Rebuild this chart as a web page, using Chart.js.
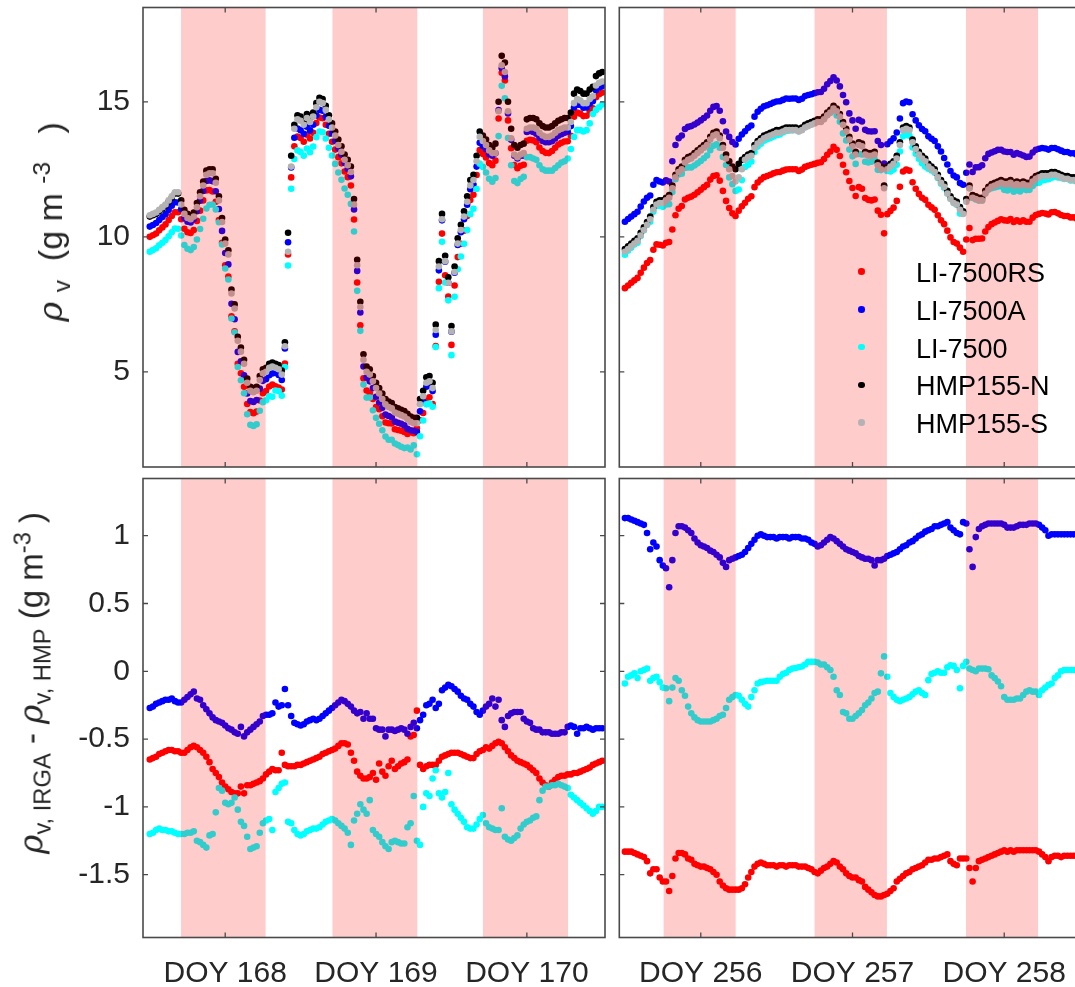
<!DOCTYPE html>
<html>
<head>
<meta charset="utf-8">
<script src="https://cdn.jsdelivr.net/npm/chart.js@4.4.1/dist/chart.umd.min.js"></script>
<style>
  html, body { margin: 0; padding: 0; background: #fff; overflow: hidden; }
  #fig { position: relative; width: 1075px; height: 987px; overflow: hidden;
         font-family: "Liberation Sans", Arial, Helvetica, sans-serif; color: #262626; }
  #fig canvas { position: absolute; }
  .ytitle { position: absolute; white-space: nowrap; font-size: 33px;
            transform: translate(-50%, -50%) rotate(-90deg); }
  .ytitle sub, .ytitle sup { font-size: 72%; line-height: 0; }
  .ytitle i { font-family: "DejaVu Serif", serif; }
  .leg-dot { position: absolute; width: 6.6px; height: 6.6px; border-radius: 50%; }
  .leg-txt { position: absolute; font-size: 27px; color: #000; white-space: nowrap;
             transform: translateY(-50%); }
</style>
</head>
<body>
<div id="fig">
  <canvas id="tl" width="612" height="474" style="left:0;top:0"></canvas>
  <canvas id="tr" width="480" height="474" style="left:612px;top:0"></canvas>
  <canvas id="bl" width="612" height="513" style="left:0;top:474px"></canvas>
  <canvas id="br" width="480" height="513" style="left:612px;top:474px"></canvas>
  <div class="ytitle" style="left:50px;top:222px;font-size:34px"><i>&rho;</i>&nbsp;<sub>v</sub>&nbsp;&nbsp;(g m&nbsp;<sup>-3</sup>&nbsp;&nbsp;&nbsp;)</div>
  <div class="ytitle" style="left:31px;top:683px"><i>&rho;</i><sub>v, IRGA</sub> - <i>&rho;</i><sub>v, HMP</sub> (g m<sup>-3</sup> )</div>
  <div id="legend"></div>
</div>
<script>
// sampling grid (30 min) of each period
const timeLeft = Array.from({ length: 145 }, (_, i) => 167.5 + i / 48)
const timeRight = Array.from({ length: 145 }, (_, i) => 255.5 + i / 48)

const doyLeft = [168, 169, 170]
const doyRight = [256, 257, 258]
const yTicksTop = [5, 10, 15]
const yTicksBottom = [-1.5, -1, -0.5, 0, 0.5, 1]

// night periods (shaded)
const nightStartLeft = [167.707, 168.711, 169.709]
const nightEndLeft = [168.268, 169.274, 170.273]
const nightStartRight = [255.755, 256.75, 257.748]
const nightEndRight = [256.23, 257.227, 258.223]

const names = ["LI-7500RS", "LI-7500A", "LI-7500", "HMP155-N", "HMP155-S"]
const colors = ["#ff0000", "#0000ff", "#00ffff", "#000000", "#b3b3b3"]

// water vapour density, DOY 167.5 - 170.5 (g m-3)
const rsLeft = [10.0,10.06,10.12,10.24,10.35,10.46,10.62,10.77,10.91,10.91,
10.65,10.3,10.17,10.14,10.25,10.59,10.97,11.35,11.72,11.73,
11.68,11.3,10.62,9.78,8.95,8.53,7.06,6.5,5.3,4.95,
4.45,3.81,3.51,3.47,3.53,3.94,4.21,4.29,4.46,4.53,
4.47,4.42,4.35,5.31,9.35,12.2,13.35,13.71,13.66,13.52,
13.78,13.64,13.85,14.21,14.42,14.39,14.15,13.81,13.52,13.23,
12.95,12.72,12.42,12.21,11.9,10.64,8.31,6.73,4.76,4.31,
4.22,4.0,3.7,3.62,3.36,3.13,3.1,3.09,2.88,2.85,
2.82,2.78,2.7,2.77,2.73,2.91,3.21,3.48,4.0,4.06,
3.81,5.96,8.34,10.12,8.58,7.79,6.0,8.2,9.25,9.74,
10.23,10.77,11.36,11.56,12.29,13.21,13.07,12.94,12.73,12.65,
12.82,14.38,16.07,15.79,14.31,13.28,12.66,12.54,12.63,12.67,
13.56,13.59,13.57,13.5,13.31,13.18,13.11,13.1,13.18,13.3,
13.42,13.48,13.53,13.54,13.74,14.45,14.6,14.56,14.47,14.48,
14.64,14.76,15.17,15.28,15.34]
const aLeft = [10.38,10.44,10.51,10.62,10.73,10.84,10.99,11.15,11.28,11.27,
11.02,10.69,10.56,10.53,10.65,10.95,11.34,11.7,12.07,12.09,
12.06,11.69,11.03,10.22,9.4,8.98,7.52,6.95,5.74,5.39,
4.87,4.2,3.92,3.89,3.96,4.38,4.67,4.73,4.88,4.94,
4.97,4.89,4.7,5.87,9.8,12.57,13.67,14.01,13.95,13.81,
14.08,13.94,14.15,14.49,14.7,14.67,14.44,14.11,13.83,13.55,
13.27,13.04,12.73,12.51,12.24,11.01,8.74,7.2,5.2,4.79,
4.65,4.4,4.08,3.87,3.67,3.42,3.37,3.32,3.16,3.12,
3.08,3.02,2.89,2.84,2.82,2.78,3.54,3.88,4.45,4.51,
4.29,6.38,8.76,10.61,9.08,8.3,6.49,8.67,9.7,10.17,
10.65,11.19,11.76,11.94,12.6,13.48,13.36,13.24,13.06,13.0,
13.09,14.69,16.24,15.94,14.57,13.59,13.0,12.9,13.0,13.0,
13.88,13.92,13.88,13.82,13.67,13.55,13.5,13.5,13.54,13.64,
13.74,13.8,13.85,13.89,14.1,14.79,14.89,14.88,14.78,14.79,
14.93,15.02,15.43,15.53,15.58]
const li75Left = [9.45,9.51,9.58,9.69,9.78,9.88,10.02,10.17,10.31,10.3,
10.05,9.7,9.56,9.51,9.62,9.9,10.29,10.67,11.05,11.19,
11.2,11.01,10.54,9.72,8.83,8.42,6.98,6.47,5.18,4.69,
4.21,3.43,3.04,3.0,3.06,3.56,3.88,3.95,4.11,4.08,
4.31,4.29,4.12,5.18,8.94,11.78,12.88,13.2,13.14,13.0,
13.27,13.13,13.34,13.69,13.9,13.87,13.64,13.3,13.01,12.7,
12.38,12.11,11.79,11.56,11.22,10.2,8.0,6.52,4.53,4.05,
4.05,3.58,3.3,3.08,2.84,2.61,2.49,2.49,2.35,2.29,
2.23,2.18,2.2,2.13,2.28,1.95,2.62,3.2,3.8,3.83,
3.71,5.92,8.1,9.82,8.31,7.65,5.62,7.78,8.8,9.27,
9.74,10.25,10.84,11.04,11.77,12.71,12.59,12.38,12.15,12.04,
12.18,13.73,15.59,15.13,13.66,12.65,12.07,11.99,12.14,12.22,
12.95,12.95,12.9,12.85,12.65,12.5,12.45,12.45,12.45,12.55,
12.65,12.75,12.8,12.9,13.25,13.7,13.95,13.95,13.9,13.95,
14.2,14.55,14.7,14.8,14.9]
const hmpNLeft = [10.75,10.8,10.85,10.95,11.05,11.15,11.3,11.45,11.6,11.6,
11.35,11.0,10.85,10.8,10.9,11.25,11.65,12.05,12.45,12.5,
12.5,12.15,11.5,10.7,9.9,9.5,8.05,7.5,6.3,5.9,
5.45,4.75,4.45,4.4,4.45,4.85,5.1,5.15,5.3,5.35,
5.3,5.25,5.05,6.1,10.15,13.0,14.15,14.5,14.45,14.3,
14.55,14.4,14.6,14.95,15.15,15.1,14.85,14.5,14.2,13.9,
13.6,13.35,13.05,12.85,12.6,11.4,9.15,7.6,5.65,5.2,
5.1,4.85,4.6,4.4,4.2,4.0,3.9,3.85,3.7,3.65,
3.6,3.55,3.45,3.35,3.3,3.3,4.0,4.3,4.8,4.85,
4.6,6.75,9.1,10.85,9.3,8.5,6.7,8.9,9.95,10.45,
10.95,11.5,12.1,12.3,13.0,13.9,13.75,13.6,13.4,13.3,
13.45,15.0,16.7,16.45,15.0,14.0,13.4,13.3,13.4,13.45,
14.35,14.4,14.4,14.35,14.2,14.1,14.05,14.05,14.1,14.2,
14.3,14.35,14.4,14.4,14.6,15.3,15.45,15.4,15.3,15.3,
15.45,15.55,15.95,16.05,16.1]
const hmpSLeft = [10.8,10.85,10.9,11.0,11.1,11.2,11.35,11.5,11.65,11.65,
11.2,10.85,10.7,10.65,10.75,11.1,11.5,11.9,12.3,12.35,
12.35,12.0,11.35,10.55,9.75,9.35,7.9,7.35,6.15,5.75,
5.3,4.6,4.3,4.25,4.3,4.7,4.95,5.0,5.15,5.2,
5.15,5.1,4.9,5.95,9.45,12.6,14.0,14.35,14.3,14.15,
14.4,14.25,14.45,14.8,15.0,14.95,14.7,14.35,14.05,13.75,
13.4,13.15,12.85,12.65,12.4,11.2,8.95,7.4,5.45,5.0,
4.9,4.65,4.4,4.2,4.0,3.8,3.7,3.65,3.5,3.45,
3.4,3.35,3.25,3.15,3.1,3.1,3.8,4.1,4.6,4.65,
4.4,6.55,8.9,10.65,9.1,8.3,6.5,8.7,9.75,10.25,
10.75,11.3,11.9,12.1,12.8,13.7,13.55,13.4,13.2,13.1,
13.1,14.65,16.35,16.1,14.65,13.65,13.05,12.95,13.05,13.1,
14.0,14.05,14.05,14.0,13.85,13.75,13.7,13.7,13.75,13.85,
13.95,14.0,14.05,14.05,14.25,14.95,15.1,15.05,14.95,14.95,
15.1,15.2,15.6,15.7,15.75]

// water vapour density, DOY 255.5 - 258.5 (g m-3)
const rsRight = [8.1,8.2,8.3,8.39,8.48,8.67,8.86,9.03,9.14,9.52,
9.72,9.71,9.68,9.78,9.81,10.27,10.8,11.04,11.14,11.38,
11.45,11.49,11.56,11.65,11.74,11.84,11.93,12.12,12.25,12.28,
12.08,11.7,11.33,11.07,10.87,10.77,10.97,11.13,11.26,11.41,
11.5,11.84,12.01,12.12,12.21,12.25,12.3,12.35,12.39,12.4,
12.45,12.49,12.5,12.5,12.5,12.44,12.49,12.59,12.63,12.67,
12.7,12.74,12.76,12.88,13.04,13.16,13.33,13.22,12.99,12.67,
12.39,12.07,11.81,11.51,11.84,11.78,11.44,11.37,11.35,11.38,
10.97,10.82,10.13,10.84,10.96,11.08,11.33,11.85,12.42,12.49,
12.45,12.02,11.78,11.59,11.45,11.37,11.19,11.09,11.0,10.8,
10.61,10.47,10.23,9.98,9.81,9.75,9.6,9.45,9.9,10.33,
9.88,9.93,9.93,9.94,10.2,10.36,10.47,10.53,10.59,10.65,
10.61,10.6,10.66,10.55,10.61,10.56,10.61,10.56,10.56,10.71,
10.81,10.85,10.88,10.86,10.83,10.91,10.92,10.87,10.81,10.77,
10.77,10.72,10.72,10.67,10.67]
const aRight = [10.56,10.66,10.75,10.84,10.93,11.12,11.31,11.45,11.53,11.93,
12.1,12.05,12.01,12.09,12.05,12.8,13.4,13.65,13.75,13.99,
14.07,14.1,14.16,14.23,14.31,14.4,14.49,14.67,14.81,14.84,
14.67,14.28,13.9,13.7,13.51,13.42,13.63,13.79,13.91,14.04,
14.12,14.45,14.63,14.74,14.83,14.87,14.92,14.97,15.01,15.02,
15.07,15.12,15.11,15.12,15.12,15.07,15.11,15.21,15.25,15.28,
15.32,15.35,15.36,15.48,15.65,15.77,15.91,15.79,15.57,15.25,
14.98,14.57,14.31,14.0,14.33,14.27,13.96,13.91,13.9,13.91,
13.55,13.4,12.71,13.43,13.54,13.65,13.86,14.38,14.95,15.01,
14.98,14.54,14.31,14.13,13.99,13.91,13.72,13.63,13.55,13.35,
13.16,12.92,12.68,12.44,12.27,12.2,11.99,11.93,12.37,12.68,
12.4,12.57,12.58,12.65,12.91,13.07,13.12,13.17,13.22,13.22,
13.16,13.14,13.14,13.04,13.1,13.06,13.01,12.96,12.97,13.12,
13.22,13.26,13.29,13.27,13.23,13.29,13.29,13.24,13.19,13.14,
13.14,13.09,13.09,13.04,13.03]
const li75Right = [9.34,9.49,9.6,9.72,9.78,10.03,10.24,10.45,10.56,10.93,
11.14,11.15,11.11,11.2,11.21,11.66,12.13,12.31,12.34,12.55,
12.57,12.57,12.64,12.72,12.81,12.91,13.01,13.21,13.37,13.43,
13.3,12.96,12.66,12.2,11.95,11.7,11.75,12.1,12.59,12.67,
12.79,13.14,13.34,13.45,13.56,13.61,13.66,13.71,13.76,13.79,
13.86,13.92,13.94,13.95,13.96,13.91,13.97,14.08,14.15,14.2,
14.25,14.3,14.28,14.38,14.51,14.59,14.69,14.49,14.26,13.83,
13.57,13.23,12.98,12.7,13.07,13.05,12.78,12.75,12.78,12.87,
12.48,12.47,11.89,12.44,12.42,12.49,12.67,13.16,13.72,13.78,
13.74,13.31,13.08,12.89,12.72,12.6,12.52,12.46,12.37,12.18,
11.97,11.82,11.61,11.43,11.27,11.19,10.86,10.87,11.35,11.8,
11.44,11.38,11.35,11.35,11.6,11.75,11.8,11.83,11.86,11.87,
11.74,11.72,11.77,11.67,11.73,11.68,11.76,11.73,11.74,11.88,
11.98,12.0,12.09,12.11,12.13,12.19,12.23,12.2,12.18,12.14,
12.14,12.09,12.09,12.04,12.04]
const hmpNRight = [9.55,9.65,9.75,9.85,9.95,10.15,10.35,10.55,10.75,11.1,
11.3,11.35,11.35,11.45,11.55,11.9,12.3,12.5,12.6,12.85,
12.95,13.0,13.1,13.2,13.3,13.4,13.5,13.7,13.85,13.9,
13.75,13.4,13.05,12.8,12.6,12.5,12.7,12.85,12.95,13.05,
13.1,13.4,13.55,13.65,13.75,13.8,13.85,13.9,13.95,13.95,
14.0,14.05,14.05,14.05,14.05,14.0,14.05,14.15,14.2,14.25,
14.3,14.35,14.35,14.45,14.6,14.7,14.85,14.75,14.55,14.25,
14.0,13.7,13.45,13.15,13.5,13.45,13.15,13.1,13.1,13.15,
12.75,12.6,11.9,12.6,12.7,12.8,13.0,13.5,14.05,14.1,
14.05,13.6,13.35,13.15,13.0,12.9,12.7,12.6,12.5,12.3,
12.1,11.95,11.7,11.5,11.35,11.3,11.1,10.95,11.4,11.9,
11.55,11.5,11.45,11.45,11.7,11.85,11.95,12.0,12.05,12.1,
12.05,12.05,12.1,12.0,12.05,12.0,12.05,12.0,12.0,12.15,
12.25,12.3,12.35,12.35,12.35,12.4,12.4,12.35,12.3,12.25,
12.25,12.2,12.2,12.15,12.15]
const hmpSRight = [9.45,9.55,9.65,9.75,9.85,10.05,10.25,10.45,10.65,11.0,
11.2,11.25,11.25,11.35,11.45,11.8,12.2,12.4,12.5,12.75,
12.85,12.9,13.0,13.1,13.2,13.3,13.4,13.6,13.75,13.8,
13.65,13.3,12.9,12.5,12.25,12.05,12.2,12.5,12.85,12.95,
13.0,13.3,13.45,13.55,13.65,13.7,13.75,13.8,13.85,13.85,
13.9,13.95,13.95,13.95,13.95,13.9,13.95,14.05,14.1,14.15,
14.2,14.25,14.25,14.35,14.5,14.6,14.75,14.65,14.45,14.15,
13.9,13.6,13.35,13.05,13.4,13.35,13.05,13.0,13.0,13.05,
12.65,12.5,11.8,12.5,12.6,12.7,12.9,13.4,13.95,14.0,
13.95,13.5,13.25,13.05,12.9,12.8,12.6,12.5,12.4,12.2,
12.0,11.85,11.6,11.4,11.25,11.2,11.0,10.85,11.3,11.8,
11.45,11.4,11.35,11.35,11.6,11.75,11.85,11.9,11.95,12.0,
11.95,11.95,12.0,11.9,11.95,11.9,11.95,11.9,11.9,12.05,
12.15,12.2,12.25,12.25,12.25,12.3,12.3,12.25,12.2,12.15,
12.15,12.1,12.1,12.05,12.05]

// IRGA - HMP difference, DOY 167.5 - 170.5 (g m-3)
const rsDiffLeft = [-0.65,-0.64,-0.63,-0.61,-0.6,-0.59,-0.58,-0.58,-0.59,-0.59,
-0.6,-0.6,-0.58,-0.56,-0.55,-0.56,-0.58,-0.6,-0.63,-0.67,
-0.72,-0.75,-0.78,-0.82,-0.85,-0.87,-0.89,-0.9,-0.9,-0.85,
-0.9,-0.84,-0.84,-0.83,-0.82,-0.81,-0.79,-0.76,-0.74,-0.72,
-0.73,-0.73,-0.6,-0.69,-0.7,-0.7,-0.7,-0.69,-0.69,-0.68,
-0.67,-0.66,-0.65,-0.64,-0.63,-0.61,-0.6,-0.59,-0.58,-0.57,
-0.55,-0.53,-0.53,-0.54,-0.6,-0.66,-0.74,-0.77,-0.79,-0.79,
-0.78,-0.75,-0.8,-0.68,-0.74,-0.77,-0.7,-0.66,-0.72,-0.7,
-0.68,-0.67,-0.65,-0.48,-0.47,-0.29,-0.69,-0.72,-0.7,-0.69,
-0.69,-0.69,-0.66,-0.63,-0.62,-0.61,-0.6,-0.6,-0.6,-0.61,
-0.62,-0.63,-0.64,-0.64,-0.61,-0.59,-0.58,-0.56,-0.57,-0.55,
-0.53,-0.52,-0.53,-0.56,-0.59,-0.62,-0.64,-0.66,-0.67,-0.68,
-0.69,-0.71,-0.73,-0.75,-0.79,-0.82,-0.84,-0.85,-0.82,-0.8,
-0.78,-0.77,-0.77,-0.76,-0.76,-0.75,-0.75,-0.74,-0.73,-0.72,
-0.71,-0.69,-0.68,-0.67,-0.66]
const aDiffLeft = [-0.27,-0.26,-0.24,-0.23,-0.22,-0.21,-0.21,-0.2,-0.22,-0.23,
-0.23,-0.21,-0.19,-0.17,-0.15,-0.2,-0.21,-0.25,-0.28,-0.31,
-0.34,-0.36,-0.37,-0.38,-0.4,-0.42,-0.43,-0.45,-0.46,-0.41,
-0.48,-0.45,-0.43,-0.41,-0.39,-0.37,-0.33,-0.32,-0.32,-0.31,
-0.23,-0.26,-0.25,-0.13,-0.25,-0.33,-0.38,-0.39,-0.4,-0.39,
-0.37,-0.36,-0.35,-0.36,-0.35,-0.33,-0.31,-0.29,-0.27,-0.25,
-0.23,-0.21,-0.22,-0.24,-0.26,-0.29,-0.31,-0.3,-0.35,-0.31,
-0.35,-0.35,-0.42,-0.43,-0.43,-0.48,-0.43,-0.43,-0.44,-0.43,
-0.42,-0.43,-0.46,-0.41,-0.38,-0.42,-0.36,-0.32,-0.25,-0.24,
-0.21,-0.27,-0.24,-0.14,-0.12,-0.1,-0.11,-0.13,-0.15,-0.18,
-0.2,-0.21,-0.24,-0.26,-0.3,-0.32,-0.29,-0.26,-0.24,-0.2,
-0.26,-0.21,-0.36,-0.41,-0.33,-0.31,-0.3,-0.3,-0.3,-0.35,
-0.37,-0.38,-0.42,-0.43,-0.43,-0.45,-0.45,-0.45,-0.46,-0.46,
-0.46,-0.45,-0.45,-0.41,-0.4,-0.41,-0.46,-0.42,-0.42,-0.41,
-0.42,-0.43,-0.42,-0.42,-0.42]
const li75DiffLeft = [-1.2,-1.19,-1.17,-1.16,-1.17,-1.17,-1.18,-1.18,-1.19,-1.2,
-1.2,-1.2,-1.19,-1.19,-1.18,-1.25,-1.26,-1.28,-1.3,-1.21,
-1.2,-1.04,-0.86,-0.88,-0.97,-0.98,-0.97,-0.93,-1.02,-1.11,
-1.14,-1.22,-1.31,-1.3,-1.29,-1.19,-1.12,-1.1,-1.09,-1.17,
-0.89,-0.86,-0.83,-0.82,-1.11,-1.12,-1.17,-1.2,-1.21,-1.2,
-1.18,-1.17,-1.16,-1.16,-1.15,-1.13,-1.11,-1.1,-1.09,-1.1,
-1.12,-1.14,-1.16,-1.19,-1.28,-1.1,-1.05,-0.98,-1.02,-1.05,
-0.95,-1.17,-1.2,-1.22,-1.26,-1.29,-1.31,-1.26,-1.25,-1.26,
-1.27,-1.27,-1.15,-1.12,-0.92,-1.25,-1.28,-1.0,-0.9,-0.92,
-0.79,-0.73,-0.9,-0.93,-0.89,-0.75,-0.98,-1.02,-1.05,-1.08,
-1.11,-1.15,-1.16,-1.16,-1.13,-1.09,-1.06,-1.12,-1.15,-1.16,
-1.17,-1.17,-1.01,-1.22,-1.24,-1.25,-1.23,-1.21,-1.16,-1.13,
-1.11,-1.1,-1.08,-1.07,-0.95,-0.88,-0.85,-0.85,-0.84,-0.84,
-0.83,-0.84,-0.85,-0.86,-0.91,-0.93,-0.95,-0.97,-0.99,-1.01,
-1.03,-1.05,-1.03,-1.0,-1.0]

// IRGA - HMP difference, DOY 255.5 - 258.5 (g m-3)
const rsDiffRight = [-1.33,-1.33,-1.33,-1.34,-1.35,-1.36,-1.37,-1.4,-1.49,-1.46,
-1.46,-1.52,-1.55,-1.55,-1.62,-1.51,-1.38,-1.34,-1.34,-1.35,
-1.38,-1.39,-1.42,-1.43,-1.44,-1.44,-1.45,-1.46,-1.48,-1.5,
-1.55,-1.58,-1.6,-1.61,-1.61,-1.61,-1.61,-1.6,-1.57,-1.52,
-1.48,-1.44,-1.42,-1.41,-1.42,-1.43,-1.43,-1.43,-1.44,-1.43,
-1.43,-1.44,-1.43,-1.43,-1.43,-1.44,-1.44,-1.44,-1.45,-1.46,
-1.48,-1.49,-1.47,-1.45,-1.44,-1.42,-1.4,-1.41,-1.44,-1.46,
-1.49,-1.51,-1.52,-1.52,-1.54,-1.55,-1.59,-1.61,-1.63,-1.65,
-1.66,-1.66,-1.65,-1.64,-1.62,-1.6,-1.55,-1.53,-1.51,-1.49,
-1.48,-1.46,-1.45,-1.44,-1.43,-1.41,-1.39,-1.39,-1.38,-1.38,
-1.37,-1.36,-1.35,-1.4,-1.42,-1.43,-1.38,-1.38,-1.38,-1.45,
-1.55,-1.45,-1.4,-1.39,-1.38,-1.37,-1.36,-1.35,-1.34,-1.33,
-1.32,-1.33,-1.32,-1.33,-1.32,-1.32,-1.32,-1.32,-1.32,-1.32,
-1.32,-1.33,-1.35,-1.37,-1.4,-1.37,-1.36,-1.36,-1.37,-1.36,
-1.36,-1.36,-1.36,-1.36,-1.36]
const aDiffRight = [1.13,1.13,1.12,1.11,1.1,1.09,1.08,1.02,0.9,0.95,
0.92,0.82,0.78,0.76,0.62,0.82,1.02,1.07,1.07,1.06,
1.04,1.02,0.98,0.95,0.93,0.92,0.91,0.89,0.88,0.86,
0.84,0.8,0.77,0.82,0.83,0.84,0.85,0.86,0.88,0.91,
0.94,0.97,1.0,1.01,1.0,0.99,0.99,0.99,0.98,0.99,
0.99,0.99,0.98,0.99,0.99,0.99,0.98,0.98,0.97,0.95,
0.94,0.92,0.93,0.95,0.97,0.99,0.98,0.96,0.94,0.92,
0.9,0.89,0.88,0.87,0.85,0.84,0.83,0.83,0.82,0.78,
0.82,0.82,0.83,0.85,0.86,0.87,0.88,0.9,0.92,0.93,
0.95,0.96,0.98,1.0,1.01,1.03,1.04,1.05,1.07,1.07,
1.08,1.09,1.1,1.06,1.04,1.02,1.01,1.1,1.09,0.9,
0.77,0.99,1.05,1.07,1.08,1.09,1.09,1.09,1.09,1.09,
1.08,1.06,1.06,1.06,1.07,1.08,1.08,1.08,1.09,1.09,
1.09,1.08,1.06,1.04,1.0,1.01,1.01,1.01,1.01,1.01,
1.01,1.01,1.01,1.01,1.0]
const li75DiffRight = [-0.09,-0.04,-0.03,-0.015,-0.05,0.0,0.01,0.02,-0.07,-0.05,
-0.04,-0.08,-0.12,-0.125,-0.22,-0.12,-0.05,-0.07,-0.14,-0.18,
-0.26,-0.31,-0.34,-0.36,-0.37,-0.37,-0.37,-0.37,-0.36,-0.35,
-0.33,-0.32,-0.27,-0.21,-0.19,-0.175,-0.18,-0.21,-0.24,-0.26,
-0.19,-0.14,-0.09,-0.08,-0.075,-0.07,-0.07,-0.07,-0.07,-0.04,
-0.02,-0.01,0.01,0.02,0.025,0.03,0.035,0.05,0.07,0.07,
0.07,0.065,0.05,0.05,0.03,0.01,-0.04,-0.14,-0.175,-0.3,
-0.31,-0.35,-0.35,-0.33,-0.31,-0.285,-0.25,-0.23,-0.2,-0.16,
-0.15,-0.015,0.11,-0.04,-0.16,-0.19,-0.21,-0.22,-0.21,-0.2,
-0.19,-0.17,-0.15,-0.14,-0.16,-0.175,-0.065,-0.02,-0.01,0.0,
-0.01,-0.01,0.03,0.045,0.04,0.01,-0.125,0.04,0.07,0.02,
0.01,0.0,0.02,0.02,0.02,0.015,-0.03,-0.05,-0.075,-0.11,
-0.19,-0.21,-0.21,-0.21,-0.2,-0.2,-0.175,-0.15,-0.14,-0.15,
-0.15,-0.175,-0.14,-0.12,-0.1,-0.09,-0.05,-0.03,0.0,0.01,
0.01,0.01,0.01,0.01,0.01]

// shaded nights, box and inward ticks
const frame = {
  id: "frame",
  afterDatasetsDraw(chart, args, opt) {
    const { ctx, chartArea: a } = chart
    const x = chart.scales.x
    ctx.save()
    ctx.fillStyle = "rgba(255, 0, 0, 0.2)"
    opt.nightStart.forEach((s, k) => {
      const x0 = Math.max(a.left, x.getPixelForValue(s))
      const x1 = Math.min(a.right, x.getPixelForValue(opt.nightEnd[k]))
      if (x1 > x0) ctx.fillRect(x0, a.top, x1 - x0, a.bottom - a.top)
    })
    ctx.restore()
  },
  afterDraw(chart, args, opt) {
    const { ctx, chartArea: a } = chart
    const { x, y } = chart.scales
    ctx.save()
    ctx.strokeStyle = "#4a4a4a"
    ctx.lineWidth = 1.6
    ctx.strokeRect(a.left, a.top, a.right - a.left, a.bottom - a.top)
    ctx.beginPath()
    opt.xTicks.forEach(v => {
      const px = x.getPixelForValue(v)
      ctx.moveTo(px, a.bottom); ctx.lineTo(px, a.bottom - 5)
      ctx.moveTo(px, a.top); ctx.lineTo(px, a.top + 5)
    })
    opt.yTicks.forEach(v => {
      const py = y.getPixelForValue(v)
      ctx.moveTo(a.left, py); ctx.lineTo(a.left + 5, py)
      ctx.moveTo(a.right, py); ctx.lineTo(a.right - 5, py)
    })
    ctx.lineWidth = 1.3
    ctx.stroke()
    ctx.restore()
  },
}

const tickFont = { family: "'Liberation Sans', Arial, Helvetica, sans-serif", size: 30 }

function panel(id, o) {
  const datasets = o.series.map((s, k) => ({
    label: s.name,
    data: o.time.map((t, i) => ({ x: t, y: s.values[i] })),
    backgroundColor: s.color,
    borderWidth: 0,
    pointRadius: 3.3,
    pointHoverRadius: 3.3,
    order: o.series.length - k, // later series on top, as in the original
  }))
  return new Chart(document.getElementById(id), {
    type: "scatter",
    data: { datasets },
    options: {
      responsive: false,
      animation: false,
      devicePixelRatio: 1,
      events: [],
      layout: { padding: o.padding },
      plugins: {
        legend: { display: false },
        tooltip: { enabled: false },
        frame: { nightStart: o.nightStart, nightEnd: o.nightEnd, xTicks: o.xTicks, yTicks: o.yTicks },
      },
      scales: {
        x: {
          type: "linear",
          min: o.xMin,
          max: o.xMax,
          display: o.showX,
          grid: { display: false, drawTicks: false },
          border: { display: false },
          ticks: { font: tickFont, color: "#262626", padding: 18, maxRotation: 0, autoSkip: false,
                   callback: v => "DOY " + v },
          afterBuildTicks: s => { s.ticks = o.xTicks.map(v => ({ value: v })) },
          afterFit: s => {
            s.height = o.showX ? 49.5 : 0
            s.paddingLeft = 0
            s.paddingRight = 0
          },
        },
        y: {
          type: "linear",
          min: o.yMin,
          max: o.yMax,
          display: o.showY,
          grid: { display: false, drawTicks: false },
          border: { display: false },
          ticks: { font: tickFont, color: "#262626", padding: 13, callback: v => String(v) },
          afterBuildTicks: s => { s.ticks = o.yTicks.map(v => ({ value: v })) },
          afterFit: s => {
            s.width = o.showY ? 143 : 0
            s.paddingTop = 0
            s.paddingBottom = 0
          },
        },
      },
    },
    plugins: [frame],
  })
}

const series = (vals) => vals.map((v, k) => ({ name: names[k], color: colors[k], values: v }))

panel("tl", {
  time: timeLeft, series: series([rsLeft, aLeft, li75Left, hmpNLeft, hmpSLeft]),
  xMin: 167.455, xMax: 170.518, yMin: 1.48, yMax: 18.49,
  xTicks: doyLeft, yTicks: yTicksTop, nightStart: nightStartLeft, nightEnd: nightEndLeft,
  showX: false, showY: true, padding: { left: 0, right: 7, top: 7.5, bottom: 7 },
})
panel("tr", {
  time: timeRight, series: series([rsRight, aRight, li75Right, hmpNRight, hmpSRight]),
  xMin: 255.463, xMax: 258.506, yMin: 1.48, yMax: 18.49,
  xTicks: doyRight, yTicks: yTicksTop, nightStart: nightStartRight, nightEnd: nightEndRight,
  showX: false, showY: false, padding: { left: 7.3, right: 11, top: 7.5, bottom: 7 },
})
panel("bl", {
  time: timeLeft, series: series([rsDiffLeft, aDiffLeft, li75DiffLeft]),
  xMin: 167.455, xMax: 170.518, yMin: -1.963, yMax: 1.422,
  xTicks: doyLeft, yTicks: yTicksBottom, nightStart: nightStartLeft, nightEnd: nightEndLeft,
  showX: true, showY: true, padding: { left: 0, right: 7, top: 4.5, bottom: 0 },
})
panel("br", {
  time: timeRight, series: series([rsDiffRight, aDiffRight, li75DiffRight]),
  xMin: 255.463, xMax: 258.506, yMin: -1.963, yMax: 1.422,
  xTicks: doyRight, yTicks: yTicksBottom, nightStart: nightStartRight, nightEnd: nightEndRight,
  showX: true, showY: false, padding: { left: 7.3, right: 11, top: 4.5, bottom: 0 },
})

// legend inside the upper right panel
const legend = document.getElementById("legend")
const legendRows = [271.7, 309.4, 347.1, 384.8, 422.5]
names.forEach((n, k) => {
  const dot = document.createElement("div")
  dot.className = "leg-dot"
  dot.style.background = colors[k]
  dot.style.left = (861.7 - 3.3) + "px"
  dot.style.top = (legendRows[k] - 3.3) + "px"
  legend.appendChild(dot)
  const txt = document.createElement("div")
  txt.className = "leg-txt"
  txt.textContent = n
  txt.style.left = "916px"
  txt.style.top = (legendRows[k] + 1.5) + "px"
  legend.appendChild(txt)
})
</script>
</body>
</html>
